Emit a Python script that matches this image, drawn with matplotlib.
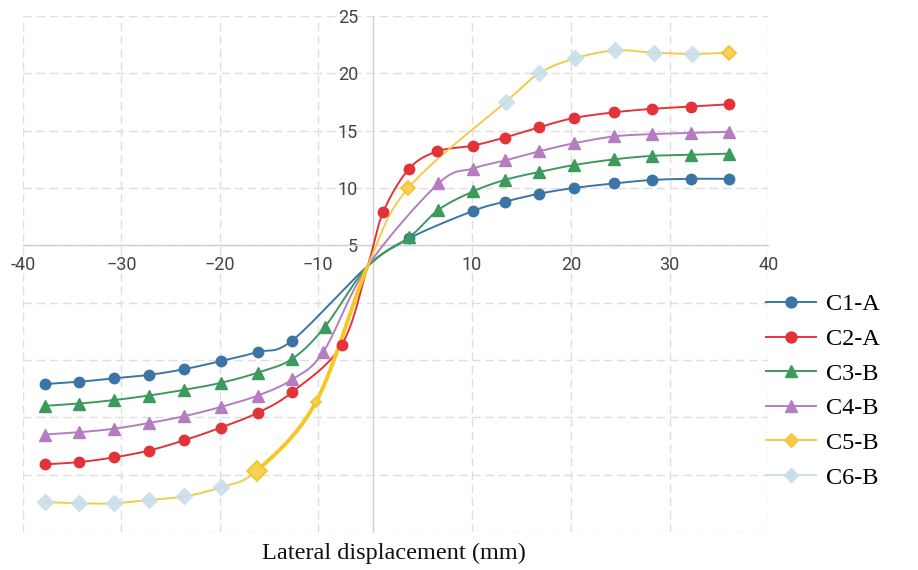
import numpy as np
import matplotlib
matplotlib.use("Agg")
import matplotlib.pyplot as plt
from matplotlib.lines import Line2D

# ---------------- data ----------------
x_left = [-37.8, -34.3, -30.8, -27.2, -23.6, -19.9, -16.1, -12.6]
x_right = [10.1, 13.3, 16.8, 20.3, 24.4, 28.2, 32.2, 36.0]
x_centre = -1.0

c1_x = x_left + [x_centre, 3.6] + x_right
c1_y = [-7.1, -6.9, -6.6, -6.3, -5.8, -5.1, -4.3, -3.3, 3.2, 5.6,
        8.0, 8.8, 9.5, 10.0, 10.4, 10.7, 10.8, 10.8]

c2_x = x_left + [-5.7, x_centre, 1.0, 3.65, 6.5] + x_right
c2_y = [-14.1, -13.9, -13.5, -12.9, -12.0, -10.9, -9.6, -7.8, -3.7, 3.2, 7.9, 11.7, 13.2,
        13.7, 14.4, 15.3, 16.1, 16.6, 16.9, 17.1, 17.3]

c3_x = x_left + [-8.7, x_centre, 3.65, 6.6] + x_right
c3_y = [-9.0, -8.8, -8.5, -8.1, -7.6, -7.0, -6.1, -4.9, -2.1, 3.2, 5.7, 8.1,
        9.7, 10.7, 11.4, 12.0, 12.5, 12.8, 12.9, 13.0]

c4_x = x_left + [-9.0, x_centre, 6.6] + x_right
c4_y = [-11.5, -11.3, -11.0, -10.5, -9.9, -9.1, -8.1, -6.7, -4.3, 3.2, 10.4,
        11.7, 12.4, 13.2, 13.9, 14.5, 14.7, 14.8, 14.9]

c5_x = x_left[:6] + [-16.2, -10.2, x_centre, 3.55, 13.4, 16.8, 20.4, 24.5, 28.4, 32.3, 36.0]
c5_y = [-17.4, -17.5, -17.5, -17.2, -16.9, -16.1, -14.65, -8.7, 3.2, 10.0,
        17.5, 20.0, 21.3, 22.0, 21.8, 21.7, 21.8]

c6_x = x_left[:6] + [13.4, 16.8, 20.4, 24.5, 28.4, 32.3]
c6_y = [-17.4, -17.5, -17.5, -17.2, -16.9, -16.1, 17.5, 20.0, 21.3, 22.0, 21.8, 21.7]

x_ticks = [-40, -30, -20, -10, 10, 20, 30, 40]
x_tick_labels = ["-40", "\u221230", "\u221220", "\u221210", "10", "20", "30", "40"]
y_ticks = [-20, -15, -10, -5, 0, 5, 10, 15, 20, 25]
y_tick_labels = ["", "", "", "", "", "5", "10", "15", "20", "25"]

# ---------------- x scale: centre band -10..0 is drawn compressed ----------------
scale_x = np.array([-40.0, -10.0, 0.0, 40.0])
scale_u = np.array([0.0, 294.4, 350.0, 745.0])


def fwd(x):
    x = np.asarray(x, dtype=float)
    lo = scale_u[0] + (x - scale_x[0]) * 9.81
    hi = scale_u[-1] + (x - scale_x[-1]) * 9.875
    return np.where(x < scale_x[0], lo, np.where(x > scale_x[-1], hi, np.interp(x, scale_x, scale_u)))


def inv(u):
    u = np.asarray(u, dtype=float)
    lo = scale_x[0] + (u - scale_u[0]) / 9.81
    hi = scale_x[-1] + (u - scale_u[-1]) / 9.875
    return np.where(u < scale_u[0], lo, np.where(u > scale_u[-1], hi, np.interp(u, scale_u, scale_x)))


def smooth(x, y, n=30):
    # Catmull-Rom through the points, worked out in scaled space
    P = np.column_stack([fwd(x), np.asarray(y, dtype=float)])
    P = np.vstack([2 * P[0] - P[1], P, 2 * P[-1] - P[-2]])
    t = np.linspace(0, 1, n, endpoint=False)[:, None]
    segs = []
    for i in range(1, len(P) - 2):
        p0, p1, p2, p3 = P[i - 1], P[i], P[i + 1], P[i + 2]
        segs.append(0.5 * (2 * p1 + (p2 - p0) * t
                           + (2 * p0 - 5 * p1 + 4 * p2 - p3) * t ** 2
                           + (3 * p1 - p0 - 3 * p2 + p3) * t ** 3))
    segs.append(P[-2][None])
    pts = np.vstack(segs)
    return inv(pts[:, 0]), pts[:, 1]


fig = plt.figure(figsize=(9.18, 5.70), dpi=100)
ax = fig.add_axes([23.3 / 918, 38 / 570, 745 / 918, 516 / 570])
ax.set_xscale("function", functions=(fwd, inv))
ax.set_xlim(-40, 40)
ax.set_ylim(-20, 25)

grid_kw = dict(color="#dedede", linewidth=1.0, linestyle=(0, (6, 3.5)))
ax.grid(True, **grid_kw)
ax.set_axisbelow(True)

for side in ["top", "right"]:
    ax.spines[side].set_visible(False)
ax.spines["left"].set_position(("data", 0))
ax.spines["bottom"].set_position(("data", 5))
for side in ["left", "bottom"]:
    ax.spines[side].set_color("#cfcfcf")
    ax.spines[side].set_linewidth(1.0)

ax.set_xticks(x_ticks)
ax.set_xticklabels(x_tick_labels)
ax.set_yticks(y_ticks)
ax.set_yticklabels(y_tick_labels)
ax.tick_params(axis="both", length=0, labelsize=13, labelcolor="#444444")
ax.tick_params(axis="x", pad=8)
ax.tick_params(axis="y", pad=11)
for lab in ax.get_xticklabels() + ax.get_yticklabels():
    lab.set_family("Roboto")

lw = 1.4
series = [
    ("C1-A", c1_x, c1_y, "#3b75a6", "o", 7.5),
    ("C2-A", c2_x, c2_y, "#e3333a", "o", 7.5),
    ("C3-B", c3_x, c3_y, "#3b9a5c", "^", 8.0),
    ("C4-B", c4_x, c4_y, "#b57cc2", "^", 8.0),
]
handles = []
for name, xs, ys, col, mk, ms in series:
    sx, sy = smooth(xs, ys)
    ax.plot(sx, sy, color=col, lw=lw, zorder=3)
    xs_a, ys_a = np.array(xs), np.array(ys)
    keep = xs_a != x_centre
    ax.plot(xs_a[keep], ys_a[keep], ls="none", marker=mk, ms=ms, color=col, zorder=4)
    handles.append(Line2D([], [], color=col, lw=lw, marker=mk, ms=ms * 1.05))

# C5-B: one yellow curve, heavier between its two lower markers and the centre
yellow = "#f3cb48"
sx, sy = smooth(c5_x, c5_y)
ax.plot(sx, sy, color=yellow, lw=lw, zorder=3)
heavy = (sx >= -16.2) & (sx <= x_centre)
ax.plot(sx[heavy], sy[heavy], color="#f5c922", lw=2.8, zorder=3, solid_capstyle="round")

c5_xa, c5_ya = np.array(c5_x), np.array(c5_y)
own = ~np.isin(c5_xa, c6_x) & (c5_xa != x_centre)
c5_marker_sizes = [13, 7, 10, 10]
for xv, yv, ms in zip(c5_xa[own], c5_ya[own], c5_marker_sizes):
    ax.plot([xv], [yv], ls="none", marker="D", ms=ms * 0.75, color="#f7d250",
            mec="#f2c230", mew=1.2, zorder=5)
handles.append(Line2D([], [], color=yellow, lw=lw, marker="D", ms=7.5, mec=yellow))

# C6-B: light-blue diamonds sitting on the yellow curve
c6_col = "#c8dfeb"
ax.plot(c6_x, c6_y, ls="none", marker="D", ms=8, color=c6_col, alpha=0.9, zorder=5)
handles.append(Line2D([], [], color=c6_col, lw=lw, marker="D", ms=7.5))

labels = ["C1-A", "C2-A", "C3-B", "C4-B", "C5-B", "C6-B"]
fig.legend(handles, labels, loc="center left", bbox_to_anchor=(766 / 918, 1 - 391 / 570),
           frameon=False, prop={"family": "Liberation Serif", "size": 17.5},
           handlelength=2.05, handletextpad=0.4, labelspacing=0.52,
           borderpad=0, borderaxespad=0)

fig.text(394 / 918, 1 - 553 / 570, "Lateral displacement (mm)", ha="center", va="center",
         family="Liberation Serif", fontsize=17.5, color="#111111")

fig.savefig("out.png", dpi=100)
